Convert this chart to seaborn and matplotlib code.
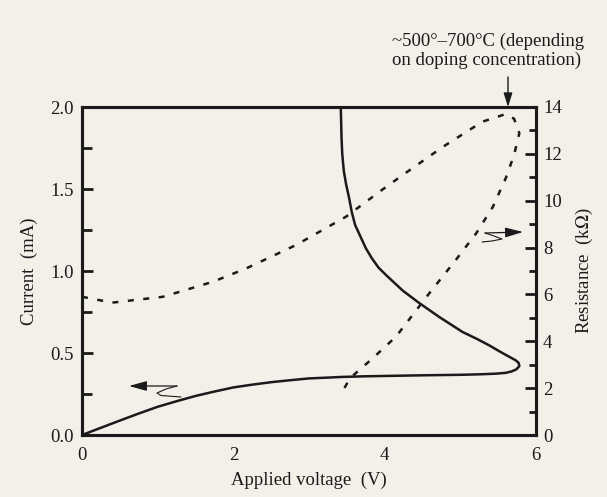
import numpy as np
import pandas as pd
import matplotlib
matplotlib.use("Agg")
import matplotlib.pyplot as plt
import seaborn as sns

# ---- data ----
# I-V curve (current, left axis), in drawing order
iv_voltage = [0.0, 0.25, 0.5, 0.75, 1.0, 1.25, 1.5, 1.75, 2.0, 2.25, 2.5, 2.75, 3.0,
              3.25, 3.43, 3.75, 4.0, 4.5, 5.0, 5.25, 5.47, 5.6, 5.68, 5.74, 5.78,
              5.77, 5.73, 5.65, 5.51, 5.38, 5.21, 5.03, 4.72, 4.45, 4.24, 4.03, 3.92,
              3.83, 3.75, 3.68, 3.61, 3.565, 3.53, 3.49, 3.46, 3.44, 3.43, 3.42]
iv_current = [0.0, 0.044, 0.088, 0.131, 0.172, 0.206, 0.238, 0.265, 0.29, 0.307, 0.322,
              0.334, 0.345, 0.35, 0.354, 0.358, 0.36, 0.364, 0.367, 0.37, 0.374, 0.379,
              0.388, 0.4, 0.42, 0.44, 0.456, 0.476, 0.512, 0.547, 0.588, 0.628, 0.72,
              0.807, 0.88, 0.97, 1.02, 1.078, 1.14, 1.21, 1.28, 1.36, 1.445, 1.53, 1.61,
              1.71, 1.81, 2.0]
# Resistance curve (right axis), in drawing order
r_voltage = [0.0, 0.4, 1.07, 1.73, 2.17, 2.83, 3.49, 3.93, 4.24, 4.77, 5.29, 5.6, 5.71,
             5.78, 5.71, 5.6, 5.43, 5.21, 4.94, 4.59, 4.15, 3.84, 3.54, 3.43]
r_kohm = [5.9, 5.65, 5.9, 6.54, 7.11, 8.11, 9.32, 10.38, 11.1, 12.3, 13.37, 13.7, 13.5,
          12.88, 11.95, 10.96, 9.74, 8.61, 7.47, 6.05, 4.2, 3.27, 2.42, 1.78]

x_ticks = [0, 2, 4, 6]
left_ticks = [0.0, 0.5, 1.0, 1.5, 2.0]
left_labels = ["0.0", "0.5", "1.0", "1.5", "2.0"]
right_ticks = [0, 2, 4, 6, 8, 10, 12, 14]

BG = "#f3f0ea"
INK = "#1a1a1a"
sns.set_theme(style="white")
plt.rcParams["font.family"] = ["Liberation Serif", "DejaVu Serif"]
plt.rcParams["mathtext.fontset"] = "stix"

fig = plt.figure(figsize=(6.07, 4.97), dpi=100, facecolor=BG)
ax = fig.add_axes([82 / 607, 62 / 497, 454 / 607, 328 / 497])
ax.set_facecolor(BG)
ax2 = ax.twinx()

df_iv = pd.DataFrame({"V": iv_voltage, "I": iv_current})
df_r = pd.DataFrame({"V": r_voltage, "R": r_kohm})

sns.lineplot(data=df_iv, x="V", y="I", ax=ax, sort=False, estimator=None,
             color=INK, linewidth=1.8)
sns.lineplot(data=df_r, x="V", y="R", ax=ax2, sort=False, estimator=None,
             color=INK, linewidth=1.8)
ax.lines[0].set_solid_joinstyle("round")
ax2.lines[0].set_linestyle((0, (2.4, 3.8)))
ax2.lines[0].set_dash_capstyle("butt")

ax.set_xlim(0, 6)
ax.set_ylim(0, 2.0)
ax2.set_ylim(0, 14)

fs = 13.5
ax.set_xticks(x_ticks)
ax.set_xticks([1, 3, 5], minor=True)
ax.set_xticklabels([str(t) for t in x_ticks], fontsize=fs)
ax.set_yticks(left_ticks)
ax.set_yticks([0.25, 0.75, 1.25, 1.75], minor=True)
ax.set_yticklabels(left_labels, fontsize=fs)
ax2.set_yticks(right_ticks)
ax2.set_yticks([1, 3, 5, 7, 9, 11, 13], minor=True)
ax2.set_yticklabels([str(t) for t in right_ticks], fontsize=fs)

ax.tick_params(axis="x", which="major", direction="in", length=9, width=2, pad=9, colors=INK)
ax.tick_params(axis="x", which="minor", direction="in", length=5, width=2, colors=INK)
ax.tick_params(axis="y", which="major", direction="in", length=8, width=2, pad=6, colors=INK)
ax.tick_params(axis="y", which="minor", direction="in", length=7, width=2, colors=INK)
ax2.tick_params(axis="y", which="major", direction="in", length=8, width=2, pad=5, colors=INK)
ax2.tick_params(axis="y", which="minor", direction="in", length=5, width=2, colors=INK)
ax.tick_params(axis="x", which="both", top=False)

for a in (ax, ax2):
    for s in a.spines.values():
        s.set_linewidth(2.2)
        s.set_color(INK)
        s.set_visible(True)

ax.set_xlabel("Applied voltage  (V)", fontsize=fs, color=INK, labelpad=5)
ax.set_ylabel("Current  (mA)", fontsize=fs, color=INK, labelpad=9)
ax2.set_ylabel("Resistance  (k$\\Omega$)", fontsize=fs, color=INK, labelpad=9)

# annotation at the top
fig.text(488 / 607, 1 - 51 / 497, "~500°–700°C (depending\non doping concentration)",
         ha="center", va="center", fontsize=fs, color=INK, linespacing=1.12,
         multialignment="left")
ax.annotate("", xy=((508 - 82) / 454, 1.0), xycoords="axes fraction",
            xytext=((508 - 82) / 454, 1 + 30 / 328), textcoords="axes fraction",
            arrowprops=dict(arrowstyle="-|>,head_length=0.7,head_width=0.22",
                            color=INK, lw=1.0, shrinkA=0, shrinkB=0),
            annotation_clip=False)

def px(xp, yp):
    return ((xp - 82) / 454, (435 - yp) / 328)

# left squiggle arrow (points to current axis)
sq = [px(177, 386), px(166, 389), px(157, 393), px(161, 395.5), px(181, 397)]
ax.plot([p[0] for p in sq], [p[1] for p in sq], transform=ax.transAxes,
        color=INK, lw=0.8)
ax.annotate("", xy=px(129, 386), xycoords="axes fraction",
            xytext=px(177, 386), textcoords="axes fraction",
            arrowprops=dict(arrowstyle="-|>,head_length=0.9,head_width=0.25",
                            color=INK, lw=0.9, shrinkA=0, shrinkB=0))

# right squiggle arrow (points to resistance axis)
sq2 = [px(485, 233), px(494, 236), px(502, 239), px(492, 241), px(482, 242)]
ax.plot([p[0] for p in sq2], [p[1] for p in sq2], transform=ax.transAxes,
        color=INK, lw=0.8)
ax.annotate("", xy=px(523, 232), xycoords="axes fraction",
            xytext=px(485, 233), textcoords="axes fraction",
            arrowprops=dict(arrowstyle="-|>,head_length=0.9,head_width=0.25",
                            color=INK, lw=0.9, shrinkA=0, shrinkB=0))

fig.savefig("out.png", dpi=100, facecolor=BG)
